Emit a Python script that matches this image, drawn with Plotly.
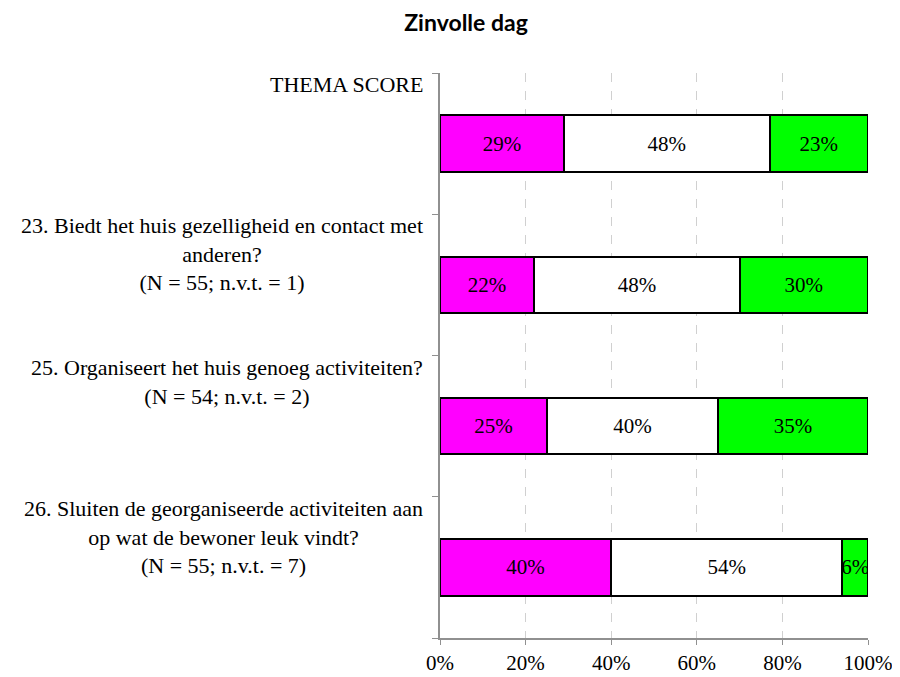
import plotly.graph_objects as go

categories = [
    "THEMA SCORE",
    "23. Biedt het huis gezelligheid en contact met<br>anderen?<br>(N = 55; n.v.t. = 1)",
    "25. Organiseert het huis genoeg activiteiten?<br>(N = 54; n.v.t. = 2)",
    "26. Sluiten de georganiseerde activiteiten aan<br>op wat de bewoner leuk vindt?<br>(N = 55; n.v.t. = 7)",
]
neg = [29, 22, 25, 40]
mid = [48, 48, 40, 54]
pos = [23, 30, 35, 6]
series = [("neg", neg, "#FF00FF"), ("mid", mid, "#FFFFFF"), ("pos", pos, "#00FF00")]
tick_vals = [0, 20, 40, 60, 80, 100]
tick_text = ["0%", "20%", "40%", "60%", "80%", "100%"]

serif = "Liberation Serif, DejaVu Serif, serif"
ycat = list(range(len(categories)))

# page body has an 8px margin: figure is sized so it fits the 900x677 window
W, H = 892, 669

fig = go.Figure()
for name, vals, col in series:
    fig.add_trace(go.Bar(
        y=ycat, x=vals, orientation="h", name=name,
        marker=dict(color=col, line=dict(color="black", width=2)),
        text=[f"{v}%" for v in vals], textposition="inside", textangle=0,
        insidetextanchor="middle", constraintext="none",
        textfont=dict(family=serif, size=21, color="black"),
        width=0.4,
    ))

for i, lab in enumerate(categories):
    fig.add_annotation(
        x=-0.035, xref="paper", y=i - 0.5, yref="y", yanchor="top", yshift=3,
        xanchor="right", align="center", text=lab, showarrow=False,
        font=dict(family=serif, size=22, color="black"),
    )

fig.update_layout(
    barmode="stack", showlegend=False,
    width=W, height=H,
    margin=dict(l=432, r=32, t=65, b=39, autoexpand=False),
    paper_bgcolor="white", plot_bgcolor="white",
    title=dict(text="<b>Zinvolle dag</b>", x=458 / W, xanchor="center",
               y=1 - 15 / H, yanchor="middle", xref="container", yref="container",
               font=dict(family="Lato, Open Sans, sans-serif", size=23, color="black")),
    uniformtext=dict(minsize=21, mode="show"),
)
fig.update_xaxes(
    range=[0, 100], tickvals=tick_vals, ticktext=tick_text, automargin=False,
    showgrid=True, gridcolor="#D0D0D0", griddash="dash", gridwidth=1,
    showline=True, linecolor="#909090", linewidth=2,
    ticks="outside", ticklen=5, tickcolor="#909090",
    tickfont=dict(family=serif, size=21, color="black"),
    zeroline=False,
)
fig.update_yaxes(
    type="category", tickmode="array", automargin=False,
    tickvals=ycat, ticktext=[""] * len(ycat), tickson="boundaries",
    showgrid=False, showline=True, linecolor="#909090", linewidth=2,
    ticks="outside", ticklen=6, tickcolor="#909090",
    range=[len(ycat) - 0.5, -0.5],
)

fig.write_html("out.html")
